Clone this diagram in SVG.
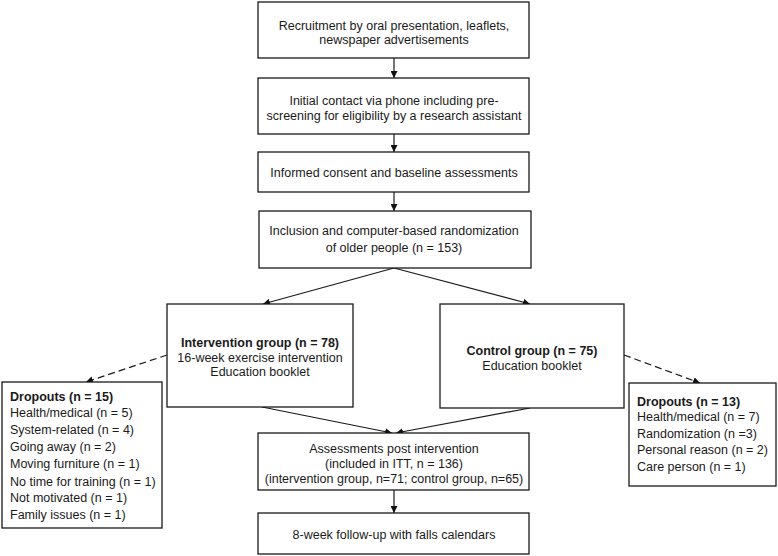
<svg xmlns="http://www.w3.org/2000/svg" width="778" height="556" viewBox="0 0 778 556">
<defs>
<marker id="ah" viewBox="0 0 10 10" refX="10" refY="5" markerWidth="7" markerHeight="7" markerUnits="userSpaceOnUse" orient="auto">
<path d="M0,0 L10,5 L0,10 z" fill="#111"/>
</marker>
<style>
.box{fill:#fff;stroke:#1a1a1a;stroke-width:1.3}
.t{font-family:"Liberation Sans",Arial,sans-serif;font-size:12.5px;fill:#1a1a1a}
.c{text-anchor:middle}
.b{font-weight:bold}
.ln{stroke:#1a1a1a;stroke-width:1.2;fill:none;marker-end:url(#ah)}
.d{stroke-dasharray:7,4}
</style>
</defs>
<rect width="778" height="556" fill="#fff"/>
<g id="connectors">
<line class="ln" x1="394" y1="58" x2="394" y2="78"/>
<line class="ln" x1="394" y1="134" x2="394" y2="152"/>
<line class="ln" x1="394" y1="192" x2="394" y2="211"/>
<line class="ln" x1="394" y1="268" x2="263" y2="304"/>
<line class="ln" x1="394" y1="268" x2="530" y2="304"/>
<line class="ln d" x1="167" y1="355" x2="86" y2="382"/>
<line class="ln d" x1="624" y1="355" x2="700" y2="383"/>
<line class="ln" x1="262" y1="407" x2="392" y2="433"/>
<line class="ln" x1="530" y1="408" x2="396" y2="433"/>
<line class="ln" x1="394" y1="490" x2="394" y2="513"/>
</g>
<g id="recruitment">
<rect class="box" x="258" y="2" width="271" height="56"/>
<text class="t c" x="394" y="29.5">Recruitment by oral presentation, leaflets,</text>
<text class="t c" x="394" y="43.5">newspaper advertisements</text>
</g>
<g id="initial-contact">
<rect class="box" x="258" y="78" width="271" height="56"/>
<text class="t c" x="394" y="104.5">Initial contact via phone including pre-</text>
<text class="t c" x="394" y="119.5">screening for eligibility by a research assistant</text>
</g>
<g id="consent">
<rect class="box" x="258" y="152" width="271" height="40"/>
<text class="t c" x="394" y="176.5">Informed consent and baseline assessments</text>
</g>
<g id="randomization">
<rect class="box" x="259" y="211" width="272" height="57"/>
<text class="t c" x="394" y="235">Inclusion and computer-based randomization</text>
<text class="t c" x="394" y="251.5">of older people (n = 153)</text>
</g>
<g id="intervention">
<rect class="box" x="167" y="304" width="186" height="103"/>
<text class="t c b" x="260" y="346.5">Intervention group (n = 78)</text>
<text class="t c" x="260" y="361.5">16-week exercise intervention</text>
<text class="t c" x="260" y="375.5">Education booklet</text>
</g>
<g id="control">
<rect class="box" x="440" y="304" width="184" height="104"/>
<text class="t c b" x="532" y="354.5">Control group (n = 75)</text>
<text class="t c" x="532" y="369.5">Education booklet</text>
</g>
<g id="dropouts-intervention">
<rect class="box" x="2" y="382" width="160" height="146"/>
<text class="t b" x="10" y="400.5">Dropouts (n = 15)</text>
<text class="t" x="10" y="417">Health/medical  (n = 5)</text>
<text class="t" x="10" y="434">System-related (n = 4)</text>
<text class="t" x="10" y="451">Going away (n = 2)</text>
<text class="t" x="10" y="468">Moving furniture (n = 1)</text>
<text class="t" x="10" y="485.5">No time for training (n = 1)</text>
<text class="t" x="10" y="502">Not motivated (n = 1)</text>
<text class="t" x="10" y="519">Family issues (n = 1)</text>
</g>
<g id="dropouts-control">
<rect class="box" x="629" y="383" width="147" height="103"/>
<text class="t b" x="637" y="405.5">Dropouts (n = 13)</text>
<text class="t" x="637" y="421">Health/medical  (n = 7)</text>
<text class="t" x="637" y="437.5">Randomization (n =3)</text>
<text class="t" x="637" y="454">Personal reason (n = 2)</text>
<text class="t" x="637" y="471">Care person (n = 1)</text>
</g>
<g id="assessments">
<rect class="box" x="258" y="433" width="271" height="57"/>
<text class="t c" x="394" y="452.5">Assessments post intervention</text>
<text class="t c" x="394" y="467.5">(included in ITT, n = 136)</text>
<text class="t c" x="394" y="482.5">(intervention group, n=71; control group, n=65)</text>
</g>
<g id="follow-up">
<rect class="box" x="258" y="513" width="271" height="41"/>
<text class="t c" x="394" y="538.5">8-week follow-up with falls calendars</text>
</g>
</svg>
